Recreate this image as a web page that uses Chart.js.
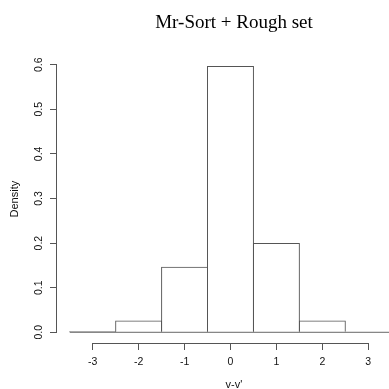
<!DOCTYPE html>
<html>
<head>
<meta charset="utf-8">
<script src="https://cdn.jsdelivr.net/npm/chart.js@4/dist/chart.umd.min.js"></script>
<style>
  html, body { margin: 0; padding: 0; overflow: hidden; background: #fff; }
  #wrap { width: 468px; height: 394px; }
</style>
</head>
<body>
<div id="wrap"><canvas id="hist" width="468" height="394"></canvas></div>
<script>
// histogram of v-v' (density scale)
const binMids = [-3, -2, -1, 0, 1, 2, 3];
const density = [0.0027, 0.0267, 0.1467, 0.5973, 0.2, 0.0267, 0];
const breaks = [-3.5, 3.5];
const xTicks = [-3, -2, -1, 0, 1, 2, 3];
const yTicks = [0, 0.1, 0.2, 0.3, 0.4, 0.5, 0.6];

const axisColor = "#555";
const sans = "'Liberation Sans', Arial, sans-serif";

// R-style axis lines that only run between the first and last tick
const axisLines = {
  id: "axisLines",
  afterDraw(chart) {
    const ctx = chart.ctx;
    const xs = chart.scales.x, ys = chart.scales.y;
    ctx.save();
    ctx.strokeStyle = axisColor;
    ctx.lineWidth = 1;
    ctx.beginPath();
    const yx = Math.round(ys.right) - 0.5;
    ctx.moveTo(yx, ys.getPixelForValue(yTicks[0]) + 0.5);
    ctx.lineTo(yx, ys.getPixelForValue(yTicks[yTicks.length - 1]) - 0.5);
    const xy = Math.round(xs.top) + 0.5;
    ctx.moveTo(xs.getPixelForValue(xTicks[0]) - 0.5, xy);
    ctx.lineTo(xs.getPixelForValue(xTicks[xTicks.length - 1]) + 0.5, xy);
    ctx.stroke();
    ctx.restore();
  }
};

new Chart(document.getElementById("hist"), {
  type: "bar",
  data: {
    datasets: [
      {
        // zero line under the bins
        type: "line",
        data: breaks.map(b => ({ x: b, y: 0 })),
        borderColor: "#666",
        borderWidth: 1,
        pointRadius: 0,
        order: 2
      },
      {
        data: binMids.map((m, i) => ({ x: m, y: density[i] })),
        backgroundColor: "rgba(255,255,255,0)",
        borderColor: "#555",
        borderWidth: 1,
        borderSkipped: "start",
        // a hair over 1 so neighbouring bars share one edge line
        barPercentage: 1.022,
        categoryPercentage: 1,
        grouped: false,
        order: 1
      }
    ]
  },
  options: {
    responsive: false,
    animation: false,
    devicePixelRatio: 1,
    layout: { padding: { left: 0, right: 57, top: 0, bottom: 0 } },
    plugins: {
      legend: { display: false },
      tooltip: { enabled: false },
      title: {
        display: true,
        fullSize: false,
        text: "Mr-Sort + Rough set",
        color: "#000",
        font: { family: "'Liberation Serif', 'Times New Roman', serif", size: 19, weight: "normal" },
        padding: { top: 12, bottom: 20.4 }
      }
    },
    scales: {
      x: {
        type: "linear",
        min: -3.777,
        max: 3.93,
        offset: false,
        afterBuildTicks: s => { s.ticks = xTicks.map(v => ({ value: v })); },
        afterFit: s => { s.height = 51; },
        border: { display: false },
        grid: { offset: false, drawOnChartArea: false, drawTicks: true, tickLength: 7, color: axisColor },
        ticks: {
          color: "#111",
          font: { family: sans, size: 10.5 },
          padding: 6,
          maxRotation: 0,
          autoSkip: false,
          callback: v => String(v)
        },
        title: {
          display: true,
          text: "v-v'",
          color: "#111",
          font: { family: sans, size: 11 },
          padding: { top: 0, bottom: 2 }
        }
      },
      y: {
        min: -0.024,
        max: 0.6213,
        afterBuildTicks: s => { s.ticks = yTicks.map(v => ({ value: v })); },
        afterFit: s => { s.width = 57; },
        border: { display: false },
        grid: { drawOnChartArea: false, drawTicks: true, tickLength: 7, color: axisColor },
        ticks: {
          color: "#111",
          font: { family: sans, size: 10.5 },
          minRotation: 90,
          maxRotation: 90,
          crossAlign: "center",
          padding: 4,
          callback: v => v.toFixed(1)
        },
        title: {
          display: true,
          text: "Density",
          color: "#111",
          font: { family: sans, size: 11 },
          padding: { top: 8, bottom: 0 }
        }
      }
    }
  },
  plugins: [axisLines]
});
</script>
</body>
</html>
